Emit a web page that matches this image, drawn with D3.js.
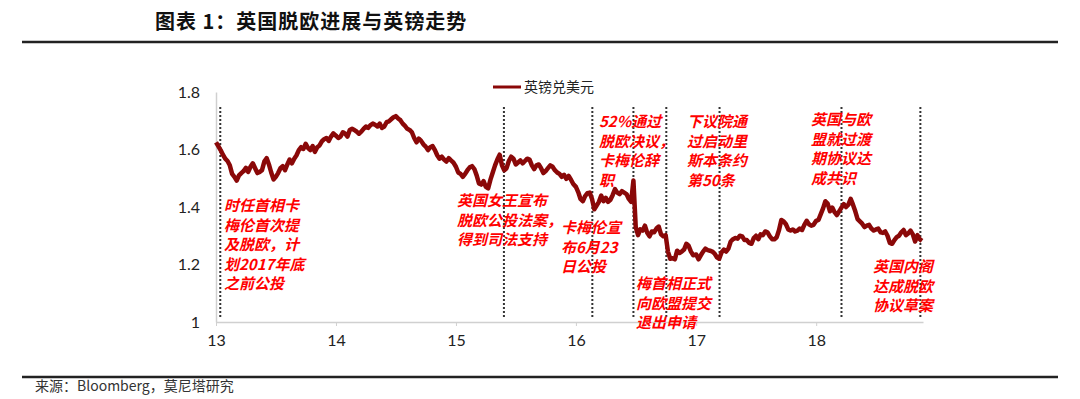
<!DOCTYPE html>
<html>
<head>
<meta charset="utf-8">
<script src="https://cdn.jsdelivr.net/npm/d3@7"></script>
<style>
	body { margin: 0; background: #fff; }
	svg { display: block; }
</style>
</head>
<body>
<svg id="chart" width="1080" height="399"></svg>
<script>
// weekly GBP/USD, each year starts Jan 1 and steps by 7 days
var gbp2013 = [1.625, 1.612, 1.598, 1.582, 1.568, 1.560, 1.545, 1.515, 1.505, 1.492, 1.510, 1.518,
	1.525, 1.536, 1.522, 1.540, 1.552, 1.535, 1.518, 1.522, 1.528, 1.558, 1.570, 1.548,
	1.520, 1.496, 1.505, 1.518, 1.535, 1.542, 1.528, 1.548, 1.565, 1.552, 1.568, 1.580,
	1.598, 1.608, 1.602, 1.620, 1.605, 1.598, 1.612, 1.592, 1.608, 1.614, 1.628, 1.636,
	1.640, 1.630, 1.645, 1.656];
var gbp2014 = [1.648, 1.640, 1.645, 1.660, 1.655, 1.645, 1.668, 1.672, 1.668, 1.662, 1.655, 1.662,
	1.672, 1.680, 1.675, 1.685, 1.690, 1.686, 1.680, 1.690, 1.675, 1.680, 1.695, 1.698,
	1.705, 1.712, 1.716, 1.708, 1.702, 1.690, 1.682, 1.672, 1.668, 1.660, 1.640, 1.625,
	1.638, 1.630, 1.618, 1.610, 1.598, 1.608, 1.612, 1.598, 1.580, 1.568, 1.575, 1.565,
	1.558, 1.570, 1.562, 1.555];
var gbp2015 = [1.540, 1.520, 1.515, 1.505, 1.515, 1.528, 1.538, 1.542, 1.532, 1.510, 1.482, 1.478,
	1.490, 1.470, 1.465, 1.495, 1.520, 1.545, 1.565, 1.582, 1.545, 1.528, 1.535, 1.560,
	1.575, 1.568, 1.548, 1.555, 1.562, 1.552, 1.560, 1.568, 1.565, 1.545, 1.532, 1.545,
	1.548, 1.535, 1.518, 1.525, 1.535, 1.545, 1.540, 1.528, 1.520, 1.515, 1.505, 1.512,
	1.498, 1.508, 1.495, 1.480];
var gbp2016 = [1.470, 1.452, 1.428, 1.420, 1.438, 1.448, 1.450, 1.428, 1.392, 1.405, 1.418, 1.440,
	1.420, 1.432, 1.418, 1.425, 1.442, 1.462, 1.450, 1.445, 1.455, 1.450, 1.445, 1.428,
	1.418, 1.492, 1.330, 1.302, 1.322, 1.318, 1.335, 1.310, 1.298, 1.315, 1.312, 1.325,
	1.332, 1.305, 1.298, 1.302, 1.245, 1.220, 1.222, 1.218, 1.248, 1.240, 1.245, 1.252,
	1.272, 1.265, 1.245, 1.232];
var gbp2017 = [1.235, 1.218, 1.232, 1.245, 1.255, 1.250, 1.248, 1.245, 1.238, 1.225, 1.220, 1.242,
	1.252, 1.245, 1.255, 1.280, 1.288, 1.292, 1.290, 1.300, 1.298, 1.285, 1.285, 1.275,
	1.272, 1.292, 1.300, 1.288, 1.305, 1.302, 1.315, 1.312, 1.298, 1.288, 1.288, 1.295,
	1.320, 1.355, 1.350, 1.340, 1.322, 1.318, 1.322, 1.315, 1.318, 1.325, 1.320, 1.338,
	1.352, 1.340, 1.335, 1.338];
var gbp2018 = [1.352, 1.355, 1.375, 1.395, 1.420, 1.412, 1.385, 1.398, 1.382, 1.372, 1.385, 1.398,
	1.410, 1.400, 1.408, 1.428, 1.408, 1.385, 1.358, 1.350, 1.342, 1.330, 1.335, 1.338,
	1.325, 1.318, 1.322, 1.325, 1.312, 1.310, 1.315, 1.300, 1.275, 1.272, 1.285, 1.295,
	1.300, 1.312, 1.320, 1.302, 1.308, 1.318, 1.305, 1.280, 1.302, 1.288, 1.282];
var years = [2013, 2014, 2015, 2016, 2017, 2018];
var seriesName = "英镑兑美元";

var eventDates = ["2013-01-14", "2015-05-27", "2016-02-20", "2016-06-24",
	"2016-10-02", "2017-03-13", "2018-03-19", "2018-11-14"];
var eventLabels = [
	["时任首相卡", "梅伦首次提", "及脱欧，计", "划2017年底", "之前公投"],
	["英国女王宣布", "脱欧公投法案，", "得到司法支持"],
	["卡梅伦宣", "布6月23", "日公投"],
	["52%通过", "脱欧决议，", "卡梅伦辞", "职"],
	["梅首相正式", "向欧盟提交", "退出申请"],
	["下议院通", "过启动里", "斯本条约", "第50条"],
	["英国与欧", "盟就过渡", "期协议达", "成共识"],
	["英国内阁", "达成脱欧", "协议草案"]
];
var yTicks = [1, 1.2, 1.4, 1.6, 1.8];
var xTickYears = [2013, 2014, 2015, 2016, 2017, 2018];

// label placement (left x, first-line centre y), one per event
var labelPos = [[224, 206], [457, 201], [561, 228], [599, 122],
	[636, 284], [687, 122], [811, 120], [873, 267]];

var svg = d3.select("#chart"),
	plotL = 216, plotR = 923, plotT = 92, plotB = 322,
	cnFont = "'Noto Sans CJK SC', 'Noto Sans', sans-serif",
	numFont = "Lato, 'Open Sans', sans-serif",
	lineColour = "#8a0808";

var data = [];
years.forEach(function(yr, k){
	var arr = [gbp2013, gbp2014, gbp2015, gbp2016, gbp2017, gbp2018][k];
	arr.forEach(function(v, i){
		data.push({date: new Date(yr, 0, 1 + 7 * i), value: v});
	});
});

var x = d3.scaleTime()
	.domain([new Date(2013, 0, 1), new Date(2018, 10, 22)])
	.range([plotL, plotR]);
var y = d3.scaleLinear()
	.domain([1, 1.8])
	.range([plotB, plotT]);

// title and rules
svg.append("text")
	.attr("x", 155).attr("y", 29)
	.attr("font-family", cnFont).attr("font-weight", "bold")
	.attr("font-size", 20).attr("fill", "#111")
	.attr("letter-spacing", 1)
	.text("图表 1：英国脱欧进展与英镑走势");
svg.append("line")
	.attr("x1", 22).attr("x2", 1058).attr("y1", 42).attr("y2", 42)
	.attr("stroke", "#222").attr("stroke-width", 2.5);
svg.append("line")
	.attr("x1", 22).attr("x2", 1058).attr("y1", 377).attr("y2", 377)
	.attr("stroke", "#222").attr("stroke-width", 2.5);
svg.append("text")
	.attr("x", 35).attr("y", 391)
	.attr("font-family", cnFont).attr("font-size", 14).attr("fill", "#333")
	.text("来源：Bloomberg，莫尼塔研究");

// axes
var yAxis = svg.append("g")
	.attr("transform", "translate(" + plotL + ",0)")
	.call(d3.axisLeft(y).tickValues(yTicks).tickSize(0).tickPadding(16)
		.tickFormat(function(d) { return d === 1 ? "1" : d3.format(".1f")(d); }));
yAxis.select(".domain").attr("stroke", "#d0d0d0").attr("stroke-width", 1.5);
yAxis.selectAll("text").attr("font-family", numFont).attr("font-size", 16).attr("fill", "#222");

var xAxis = svg.append("g")
	.attr("transform", "translate(0," + plotB + ")")
	.call(d3.axisBottom(x)
		.tickValues(xTickYears.map(function(e) { return new Date(e, 0, 1); }))
		.tickSize(4).tickSizeOuter(0).tickPadding(9)
		.tickFormat(function(d) { return String(d.getFullYear()).slice(2); }));
xAxis.select(".domain").attr("stroke", "#d0d0d0").attr("stroke-width", 1.5);
xAxis.selectAll(".tick line").attr("stroke", "#d0d0d0");
xAxis.selectAll("text").attr("font-family", numFont).attr("font-size", 16).attr("fill", "#222");

// event lines
svg.append("g").selectAll("line")
	.data(eventDates)
	.enter().append("line")
		.attr("x1", function(d) { return x(new Date(d)); })
		.attr("x2", function(d) { return x(new Date(d)); })
		.attr("y1", 107).attr("y2", 318)
		.attr("stroke", "#333").attr("stroke-width", 2)
		.attr("stroke-dasharray", "2,2");

// series
svg.append("path")
	.datum(data)
	.attr("fill", "none")
	.attr("stroke", lineColour)
	.attr("stroke-width", 4.5)
	.attr("stroke-linejoin", "round")
	.attr("d", d3.line()
		.x(function(d) { return x(d.date); })
		.y(function(d) { return y(d.value); }));

// legend
svg.append("line")
	.attr("x1", 493).attr("x2", 521).attr("y1", 87).attr("y2", 87)
	.attr("stroke", lineColour).attr("stroke-width", 3);
svg.append("text")
	.attr("x", 524).attr("y", 92)
	.attr("font-family", cnFont).attr("font-size", 14).attr("fill", "#222")
	.text(seriesName);

// annotations
var ann = svg.append("g");
eventLabels.forEach(function(lines, k){
	var t = ann.append("text")
		.attr("font-family", cnFont).attr("font-size", 15)
		.attr("font-weight", "bold").attr("font-style", "italic")
		.attr("fill", "#ff0000");
	lines.forEach(function(s, i){
		t.append("tspan")
			.attr("x", labelPos[k][0])
			.attr("y", labelPos[k][1] + 5 + i * 19.5)
			.text(s);
	});
});
</script>
</body>
</html>
